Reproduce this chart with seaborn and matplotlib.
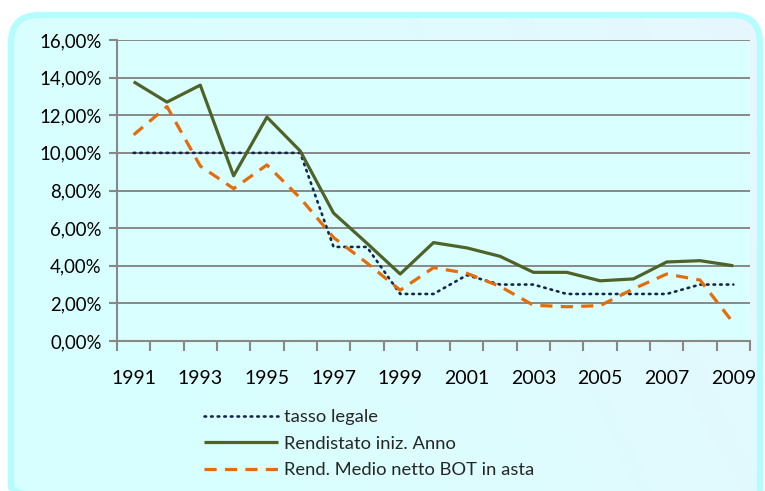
import numpy as np
import pandas as pd
import matplotlib
matplotlib.use("Agg")
import matplotlib.pyplot as plt
import seaborn as sns
from matplotlib.patches import FancyBboxPatch
from matplotlib.ticker import FuncFormatter, MultipleLocator

years = list(range(1991, 2010))
tasso_legale = [10, 10, 10, 10, 10, 10, 5, 5, 2.5, 2.5, 3.5, 3, 3, 2.5, 2.5, 2.5, 2.5, 3, 3]
rendistato = [13.78, 12.7, 13.6, 8.78, 11.9, 10.1, 6.8, 5.2, 3.56, 5.23, 4.95, 4.5, 3.65, 3.65, 3.2, 3.3, 4.2, 4.27, 4.0]
bot = [10.96, 12.46, 9.3, 8.1, 9.36, 7.6, 5.5, 4.15, 2.7, 3.9, 3.6, 2.9, 1.9, 1.82, 1.88, 2.77, 3.56, 3.24, 0.96]
labels = ["tasso legale", "Rendistato iniz. Anno", "Rend. Medio netto BOT in asta"]
xtick_years = list(range(1991, 2010, 2))

sns.set_theme(style="white")
plt.rcParams['font.family'] = ['Lato', 'DejaVu Sans']

fig = plt.figure(figsize=(7.65, 4.91), dpi=100)
fig.patch.set_facecolor("white")

# rounded background frame with gradient
bg = fig.add_axes([0, 0, 1, 1], zorder=0)
bg.set_xlim(0, 765)
bg.set_ylim(491, 0)
bg.axis("off")
gx = np.linspace(0, 1, 200)
gy = np.linspace(0, 1, 120)
GX, GY = np.meshgrid(gx, gy)
t = np.clip(0.75 * GX - 0.25 * GY, 0, 1)
c1 = np.array([0.85, 1.0, 1.0])
c2 = np.array([0.92, 0.96, 0.99])
img = c1[None, None, :] * (1 - t[..., None]) + c2[None, None, :] * t[..., None]
im = bg.imshow(img, extent=(8, 763, 520, 12), aspect="auto", zorder=0)
clip = FancyBboxPatch((11, 15), 749, 500, boxstyle="round,pad=0,rounding_size=28",
                      transform=bg.transData, facecolor="none", edgecolor="none")
bg.add_patch(clip)
im.set_clip_path(clip)
patch = FancyBboxPatch((11, 15), 749, 500, boxstyle="round,pad=0,rounding_size=28",
                       facecolor="none", edgecolor="#B5FDFD", linewidth=4.5)
bg.add_patch(patch)

ax = fig.add_axes([117 / 765, 1 - 341 / 491, (750 - 117) / 765, (341 - 40) / 491], zorder=1)
ax.set_facecolor("#D9FFFF")

df = pd.DataFrame({"year": years, "tasso": tasso_legale, "rend": rendistato, "bot": bot})

sns.lineplot(data=df, x="year", y="tasso", ax=ax, color="#14264A", linewidth=1.9,
             linestyle=(0, (0.6, 1.9)), dash_capstyle="round", label=labels[0])
sns.lineplot(data=df, x="year", y="rend", ax=ax, color="#4F6228", linewidth=2.3,
             label=labels[1])
sns.lineplot(data=df, x="year", y="bot", ax=ax, color="#E46C0A", linewidth=2.3,
             linestyle=(0, (3.8, 2.6)), label=labels[2])
for ln in ax.lines:
    ln.set_solid_capstyle("butt")

ax.set_xlim(1990.5, 2009.5)
ax.set_ylim(0, 16)
ax.yaxis.set_major_locator(MultipleLocator(2))
ax.yaxis.set_major_formatter(FuncFormatter(lambda v, p: f"{v:.2f}".replace(".", ",") + "%"))
ax.set_xticks(xtick_years)
ax.set_xticks(np.arange(1990.5, 2010, 1), minor=True)
ax.set_xticklabels([str(y) for y in xtick_years])
ax.grid(axis="y", color="#888888", linewidth=1.4)
ax.set_axisbelow(True)
for s in ["top", "right"]:
    ax.spines[s].set_visible(False)
for s in ["left", "bottom"]:
    ax.spines[s].set_color("#888888")
    ax.spines[s].set_linewidth(1.5)
ax.tick_params(axis="y", which="major", length=6, width=1.5, color="#888888",
               direction="out", labelsize=13.4, pad=5, left=True, labelcolor="black")
ax.tick_params(axis="x", which="major", length=0, labelsize=14, pad=21, labelcolor="black")
ax.tick_params(axis="x", which="minor", length=7, width=1.5, color="#888888",
               direction="out", bottom=True)
ax.set_xlabel("")
ax.set_ylabel("")

leg = ax.legend(loc="upper left", bbox_to_anchor=(195 / 765, 1 - 400 / 491),
                bbox_transform=fig.transFigure, frameon=False, fontsize=13.2,
                handlelength=4.0, handletextpad=0.35, labelspacing=0.58, borderpad=0)

fig.savefig("out.png", dpi=100, facecolor=fig.get_facecolor())
